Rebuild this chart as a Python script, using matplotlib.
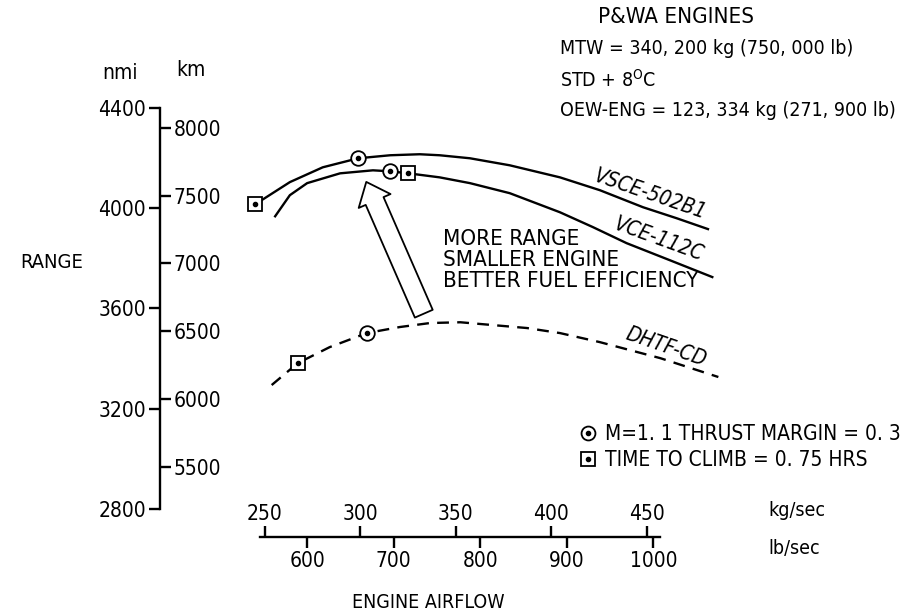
import matplotlib
matplotlib.use("Agg")
import matplotlib.pyplot as plt
from matplotlib import font_manager
from matplotlib.lines import Line2D
from matplotlib.legend_handler import HandlerTuple

# ---------------- data ----------------
vsce_airflow_lb = [540, 551, 580, 618, 659, 696, 730, 753, 788, 834, 892, 938, 988, 1027, 1063]
vsce_range_nmi = [4015, 4039, 4103, 4162, 4198, 4210, 4214, 4210, 4198, 4170, 4122, 4071, 4003, 3959, 3916]

vce_airflow_lb = [563, 580, 600, 638, 676, 696, 717, 753, 788, 834, 892, 930, 969, 1019, 1068]
vce_range_nmi = [3967, 4051, 4099, 4138, 4150, 4146, 4138, 4122, 4099, 4059, 3983, 3924, 3860, 3792, 3725]

dhtf_airflow_lb = [559, 589, 626, 669, 707, 742, 777, 854, 892, 938, 1008, 1075]
dhtf_range_nmi = [3295, 3382, 3446, 3502, 3526, 3542, 3545, 3522, 3502, 3466, 3402, 3327]

thrust_margin_lb = [659, 696, 669]          # M=1.1 thrust margin = 0.3 points
thrust_margin_nmi = [4198, 4146, 3502]
climb_time_lb = [540, 717, 589]             # time to climb = 0.75 hrs points
climb_time_nmi = [4015, 4138, 3382]

nmi_ticks = [2800, 3200, 3600, 4000, 4400]
km_ticks = [5500, 6000, 6500, 7000, 7500, 8000]
lb_ticks = [600, 700, 800, 900, 1000]
kg_ticks = [250, 300, 350, 400, 450]

curve_labels = ["VSCE-502B1", "VCE-112C", "DHTF-CD"]
legend_labels = ["M=1. 1 THRUST MARGIN = 0. 3", "TIME TO CLIMB = 0. 75 HRS"]

NMI_TO_KM = 1.852
KG_TO_LB = 2.2046

# ---------------- fonts ----------------
_names = {f.name for f in font_manager.fontManager.ttflist}
if "Liberation Sans Narrow" in _names:
    plt.rcParams["font.family"] = ["Liberation Sans Narrow", "DejaVu Sans"]
else:
    plt.rcParams["font.family"] = ["DejaVu Sans"]
    plt.rcParams["font.stretch"] = "condensed"
plt.rcParams["mathtext.default"] = "regular"

W, H = 916, 616
fig = plt.figure(figsize=(W / 100, H / 100), dpi=100)


def fx(x):
    return x / W


def fy(y):
    return 1 - y / H


LW = 1.7
TICK_FS = 15
ax = fig.add_axes([fx(160), fy(537), (740 - 160) / W, (537 - 100) / H])
ax.set_xlim(430, 1100)
ax.set_ylim(2690, 4430)
ax.patch.set_visible(False)
for s in ("top", "right"):
    ax.spines[s].set_visible(False)
for s in ("left", "bottom"):
    ax.spines[s].set_linewidth(LW)
ax.spines["left"].set_bounds(2800, 4400)
ax.spines["bottom"].set_bounds(545, 1008)

ax.set_yticks(nmi_ticks)
ax.set_yticklabels([str(v) for v in nmi_ticks])
ax.tick_params(axis="y", direction="out", length=8, width=LW, pad=2, labelsize=TICK_FS)
ax.set_xticks(lb_ticks)
ax.set_xticklabels([str(v) for v in lb_ticks])
ax.tick_params(axis="x", direction="out", length=8, width=LW, pad=2, labelsize=TICK_FS)

# km scale on the same vertical line
sy = ax.secondary_yaxis(0.0, functions=(lambda n: n * NMI_TO_KM, lambda k: k / NMI_TO_KM))
sy.set_alignment("right")
sy.set_yticks(km_ticks)
sy.set_yticklabels([str(v) for v in km_ticks])
sy.tick_params(axis="y", direction="out", length=8, width=LW, pad=2, labelsize=TICK_FS)
for sp in sy.spines.values():
    sp.set_visible(False)

# kg/sec scale on the same horizontal line
sx = ax.secondary_xaxis(0.0, functions=(lambda lb: lb / KG_TO_LB, lambda kg: kg * KG_TO_LB))
sx.set_alignment("top")
sx.set_xticks(kg_ticks)
sx.set_xticklabels([str(v) for v in kg_ticks])
sx.tick_params(axis="x", direction="out", length=8, width=LW, pad=1, labelsize=TICK_FS)
for sp in sx.spines.values():
    sp.set_visible(False)

# ---------------- curves ----------------
ax.plot(vsce_airflow_lb, vsce_range_nmi, color="black", lw=LW, solid_joinstyle="round")
ax.plot(vce_airflow_lb, vce_range_nmi, color="black", lw=LW, solid_joinstyle="round")
ax.plot(dhtf_airflow_lb, dhtf_range_nmi, color="black", lw=LW, ls=(0, (5, 3.5)))

mk = dict(ls="none", mfc="white", mec="black", mew=1.3, zorder=4)
ax.plot(thrust_margin_lb, thrust_margin_nmi, marker="o", ms=10.5, **mk)
ax.plot(climb_time_lb, climb_time_nmi, marker="s", ms=10.5, **mk)
ax.plot(thrust_margin_lb + climb_time_lb, thrust_margin_nmi + climb_time_nmi,
        ls="none", marker="o", ms=3, color="black", zorder=5)

# arrow
ax.annotate("", xy=(667, 4114), xytext=(736, 3569),
            arrowprops=dict(arrowstyle="simple,head_length=0.75,head_width=1.25,tail_width=0.7",
                            mutation_scale=20, fc="white", ec="black", lw=1.3))

# ---------------- texts ----------------
fig.text(fx(650), fy(194), curve_labels[0], fontsize=15, style="italic",
         rotation=-19, ha="center", va="center", rotation_mode="anchor")
fig.text(fx(659), fy(239), curve_labels[1], fontsize=15, style="italic",
         rotation=-20, ha="center", va="center", rotation_mode="anchor")
fig.text(fx(666), fy(347), curve_labels[2], fontsize=15, style="italic",
         rotation=-19, ha="center", va="center", rotation_mode="anchor")

fig.text(fx(443), fy(260), "MORE RANGE\nSMALLER ENGINE\nBETTER FUEL EFFICIENCY",
         fontsize=16, ha="left", va="center", linespacing=1.08)

fig.text(fx(598), fy(17), "P&WA ENGINES", fontsize=16, ha="left", va="center")
fig.text(fx(560), fy(48), "MTW = 340, 200 kg (750, 000 lb)", fontsize=14, ha="left", va="center")
fig.text(fx(560), fy(80), r"STD + 8$^{\mathregular{O}}$C", fontsize=14, ha="left", va="center")
fig.text(fx(560), fy(110), "OEW-ENG = 123, 334 kg (271, 900 lb)", fontsize=14, ha="left", va="center")

fig.text(fx(120), fy(73), "nmi", fontsize=15, ha="center", va="center")
fig.text(fx(191), fy(70), "km", fontsize=15, ha="center", va="center")
fig.text(fx(52), fy(262), "RANGE", fontsize=14.5, ha="center", va="center")

fig.text(fx(768), fy(511), "kg/sec", fontsize=14, ha="left", va="center")
fig.text(fx(768), fy(548), "lb/sec", fontsize=14, ha="left", va="center")
fig.text(fx(428), fy(602), "ENGINE AIRFLOW", fontsize=14, ha="center", va="center")

# legend
h_c = Line2D([], [], marker="o", ms=10, **mk)
h_s = Line2D([], [], marker="s", ms=10, **mk)
h_d = Line2D([], [], ls="none", marker="o", ms=3, color="black")
leg = fig.legend(handles=[(h_c, h_d), (h_s, h_d)], labels=legend_labels,
                 handler_map={tuple: HandlerTuple(ndivide=1)},
                 loc="upper left", bbox_to_anchor=(fx(578), fy(424)),
                 frameon=False, fontsize=15, handlelength=1.0, handletextpad=0.3,
                 borderpad=0, borderaxespad=0, labelspacing=0.3)

fig.savefig("out.png", dpi=100)
